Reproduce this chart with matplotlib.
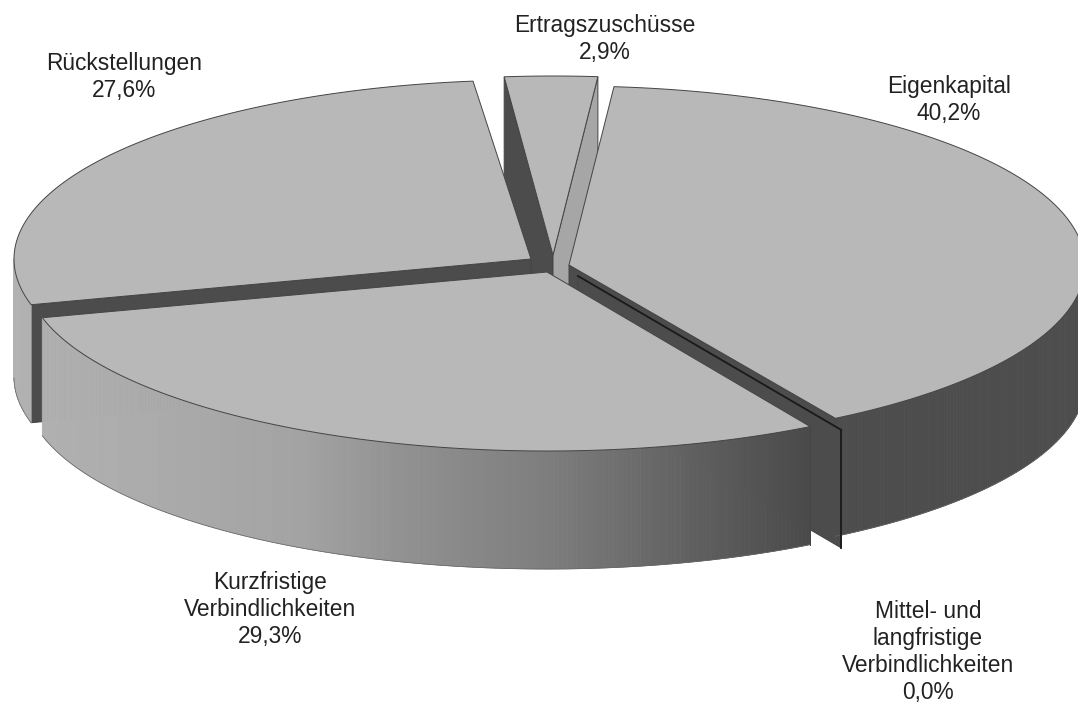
import numpy as np
import matplotlib
matplotlib.use("Agg")
import matplotlib.pyplot as plt
from matplotlib.patches import Polygon

# Werte aus der Grafik
labels = [["Eigenkapital"], ["Mittel- und", "langfristige", "Verbindlichkeiten"], ["Kurzfristige", "Verbindlichkeiten"],
          ["Rückstellungen"], ["Ertragszuschüsse"]]
values = [40.2, 0.0, 29.3, 27.6, 2.9]
value_labels = ["40,2%", "0,0%", "29,3%", "27,6%", "2,9%"]

# Spitze jedes Segments im Bild
apex_x = [569, 578, 547, 531, 553]
apex_y = [265, 276, 272, 259, 255]
label_x = [949, 928, 270, 124, 605]
label_base = [93, 618, 589, 70, 32]
line_step = 27.0
draw_order = [4, 0, 3, 1, 2]
# leichte Perspektive im Original
slice_rx = [516, 516, 522, 517, 515]
nudge_start = [0.0, 0.4, 0.0, 0.0, 0.0]
nudge_end = [0.8, 0.4, 0.0, 1.0, 0.0]

start_angle = 85.0
ry = 179.0
depth = 118.0
top_color = "#b8b8b8"
dark_color = "#4c4c4c"
light_color = "#a6a6a6"
edge_color = "#444444"

grad_x = [0, 300, 400, 550, 700, 810, 840, 1078]
grad_gray = [0.70, 0.64, 0.57, 0.49, 0.37, 0.29, 0.30, 0.30]


def rim(i, a, b):
    n = max(2, int(abs(b - a)) * 2 + 2)
    t = np.radians(np.linspace(a, b, n))
    return apex_x[i] + slice_rx[i] * np.cos(t), apex_y[i] - ry * np.sin(t)


def edge_wall(ax, i, angle, sign):
    rx = slice_rx[i]
    t = np.radians(angle)
    nx = sign * (-ry * np.sin(t))
    ny = sign * (-rx * np.cos(t))
    if ny <= 0:
        return
    color = light_color if nx > abs(ny) else dark_color
    ex = apex_x[i] + rx * np.cos(t)
    ey = apex_y[i] - ry * np.sin(t)
    pts = [(apex_x[i], apex_y[i]), (ex, ey), (ex, ey + depth), (apex_x[i], apex_y[i] + depth)]
    ax.add_patch(Polygon(pts, closed=True, fc=color, ec=edge_color, lw=0.7))
    if values[i] == 0:
        ax.plot([ex, ex], [ey, ey + depth], color="#1a1a1a", lw=1.3)


def draw_slice(ax, i, a, b):
    # a -> b im Uhrzeigersinn
    edge_wall(ax, i, a, 1)
    edge_wall(ax, i, b, -1)

    x, y = rim(i, a, b)
    for k in range(len(x) - 1):
        if y[k] < apex_y[i] and y[k + 1] < apex_y[i]:
            continue
        gray = np.interp((x[k] + x[k + 1]) / 2, grad_x, grad_gray)
        pts = [(x[k], y[k]), (x[k + 1], y[k + 1]), (x[k + 1], y[k + 1] + depth), (x[k], y[k] + depth)]
        ax.add_patch(Polygon(pts, closed=True, fc=str(gray), ec=str(gray), lw=0.6))

    if values[i] > 0:
        front = y >= apex_y[i]
        if front.sum() > 1:
            ax.plot(x[front], y[front] + depth, color="#666666", lw=0.5)
        if y[0] >= apex_y[i] and x[0] > apex_x[i]:
            ax.plot([x[0], x[0]], [y[0], y[0] + depth], color=edge_color, lw=0.7)
        pts = [(apex_x[i], apex_y[i])] + list(zip(x, y))
        ax.add_patch(Polygon(pts, closed=True, fc=top_color, ec=edge_color, lw=0.7))
    else:
        ax.plot([apex_x[i], x[0]], [apex_y[i], y[0]], color="#1a1a1a", lw=1.3)


fig = plt.figure(figsize=(10.78, 7.04), dpi=100)
ax = fig.add_axes([0, 0, 1, 1])
ax.set_xlim(0, 1078)
ax.set_ylim(704, 0)
ax.axis("off")

edges = start_angle - np.concatenate([[0], np.cumsum(values)]) * 3.6
edges[-1] = start_angle - 360
for i in draw_order:
    draw_slice(ax, i, edges[i] + nudge_start[i], edges[i + 1] + nudge_end[i])

for i in range(len(labels)):
    for j, line in enumerate(labels[i] + [value_labels[i]]):
        ax.text(label_x[i], label_base[i] + j * line_step, line, ha="center", va="baseline",
                fontsize=16.4, family="Liberation Sans", color="#222222")

fig.savefig("out.png", dpi=100)
